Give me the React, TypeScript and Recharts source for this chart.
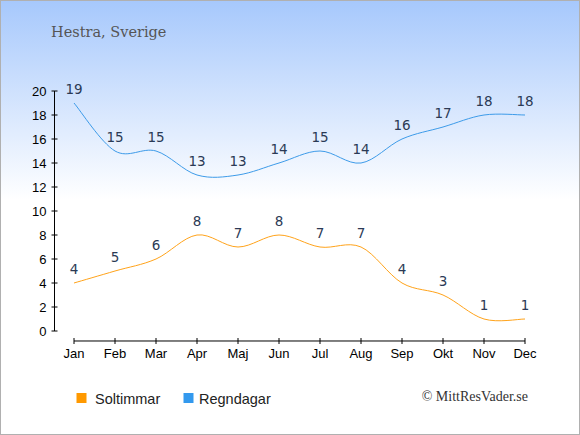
import React from "react";
import { LineChart, Line, XAxis, YAxis, ReferenceLine, LabelList } from "recharts";

const months = ["Jan", "Feb", "Mar", "Apr", "Maj", "Jun", "Jul", "Aug", "Sep", "Okt", "Nov", "Dec"];
const soltimmar = [4, 5, 6, 8, 7, 8, 7, 7, 4, 3, 1, 1];
const regndagar = [19, 15, 15, 13, 13, 14, 15, 14, 16, 17, 18, 18];
const yTicks = [0, 2, 4, 6, 8, 10, 12, 14, 16, 18, 20];

const data = months.map((m, i) => ({ month: m, sun: soltimmar[i], rain: regndagar[i] }));

const SANS = "'Liberation Sans', Arial, sans-serif";
const LABEL_FONT = "'DejaVu Sans', sans-serif";
const ORANGE = "#ffa31a";
const BLUE = "#3d9be9";
const NAVY = "#2b3a55";

// catmull-rom style curve, passes through every point
const smoothCurve = (context: any) => {
    let pts: [number, number][] = [];
    return {
        areaStart() {},
        areaEnd() {},
        lineStart() {
            pts = [];
        },
        point(x: number, y: number) {
            pts.push([+x, +y]);
        },
        lineEnd() {
            if (!pts.length) return;
            context.moveTo(pts[0][0], pts[0][1]);
            for (let i = 0; i < pts.length - 1; i++) {
                const p0 = pts[Math.max(i - 1, 0)];
                const p1 = pts[i];
                const p2 = pts[i + 1];
                const p3 = pts[Math.min(i + 2, pts.length - 1)];
                context.bezierCurveTo(
                    p1[0] + (p2[0] - p0[0]) / 6,
                    p1[1] + (p2[1] - p0[1]) / 6,
                    p2[0] - (p3[0] - p1[0]) / 6,
                    p2[1] - (p3[1] - p1[1]) / 6,
                    p2[0],
                    p2[1]
                );
            }
        },
    };
};

const YTick = ({ x, y, payload }: any) => (
    <g>
        <line x1={x + 5} x2={x + 11} y1={y} y2={y} stroke="#000" />
        <text x={x} y={y} dy={4.5} textAnchor="end" fontSize={13} fontFamily={SANS} fill="#000">
            {payload.value}
        </text>
    </g>
);

const XTick = ({ x, payload }: any) => (
    <g>
        <line x1={x} x2={x} y1={338} y2={344} stroke="#000" />
        <text x={x} y={358} textAnchor="middle" fontSize={13} fontFamily={SANS} fill="#000">
            {payload.value}
        </text>
    </g>
);

export default function App() {
    return (
        <div
            style={{
                position: "absolute",
                left: 0,
                top: 0,
                width: 580,
                height: 435,
                background: "linear-gradient(to bottom, #a6c8fc 0px, #ffffff 200px)",
                boxShadow: "inset 0 0 0 1px #b0b0b0",
            }}
        >
            <div style={{ position: "absolute", left: 0, top: 0 }}>
                <LineChart width={580} height={435} data={data} margin={{ top: 91, right: 55, bottom: 74, left: 0 }}>
                    <XAxis
                        dataKey="month"
                        height={30}
                        padding={{ left: 19.5, right: 0 }}
                        axisLine={false}
                        tickLine={false}
                        tick={<XTick />}
                        interval={0}
                    />
                    <YAxis
                        width={54.5}
                        domain={[0, 20]}
                        ticks={yTicks}
                        interval={0}
                        axisLine={{ stroke: "#000" }}
                        tickLine={false}
                        tickSize={0}
                        tickMargin={8}
                        tick={<YTick />}
                    />
                    <ReferenceLine
                        segment={[{ x: "Jan", y: -0.833 }, { x: "Dec", y: -0.833 }]}
                        stroke="#000"
                        ifOverflow="visible"
                    />
                    <Line
                        dataKey="sun"
                        type={smoothCurve as any}
                        stroke={ORANGE}
                        strokeWidth={1}
                        dot={false}
                        activeDot={false}
                        isAnimationActive={false}
                    >
                        <LabelList dataKey="sun" position="top" offset={9} fill={NAVY} fontSize={13.5} fontFamily={LABEL_FONT} />
                    </Line>
                    <Line
                        dataKey="rain"
                        type={smoothCurve as any}
                        stroke={BLUE}
                        strokeWidth={1}
                        dot={false}
                        activeDot={false}
                        isAnimationActive={false}
                    >
                        <LabelList dataKey="rain" position="top" offset={9} fill={NAVY} fontSize={13.5} fontFamily={LABEL_FONT} />
                    </Line>
                </LineChart>
            </div>
            <svg width={580} height={435} style={{ position: "absolute", left: 0, top: 0, pointerEvents: "none" }}>
                <text x={51} y={36.5} fontSize={14.5} fontFamily="'DejaVu Serif', serif" fill="#555">
                    Hestra, Sverige
                </text>
                <rect x={76.5} y={393} width={10} height={10} fill="#ff9900" />
                <text x={95} y={403.5} fontSize={14.5} fontFamily={SANS} fill="#222">
                    Soltimmar
                </text>
                <rect x={183.5} y={393} width={10} height={10} fill="#3399ee" />
                <text x={199} y={403.5} fontSize={14.5} fontFamily={SANS} fill="#222">
                    Regndagar
                </text>
                <text x={528} y={400.5} textAnchor="end" fontSize={14} fontFamily="'Liberation Serif', serif" fill="#333">
                    © MittResVader.se
                </text>
            </svg>
        </div>
    );
}
